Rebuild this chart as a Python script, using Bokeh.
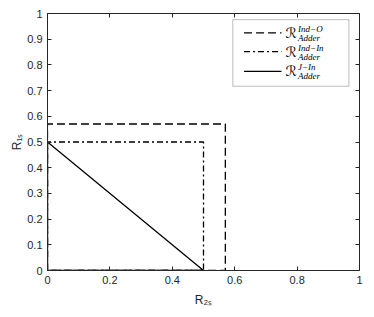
from bokeh.plotting import figure
from bokeh.models import (Range1d, LinearAxis, FixedTicker, Label, BoxAnnotation)
from bokeh.embed import file_html
from bokeh.resources import INLINE

# ---- data ----
ind_o_x = [0, 0, 0.57, 0.57, 0]
ind_o_y = [0, 0.57, 0.57, 0, 0]
ind_in_x = [0, 0, 0.5, 0.5, 0]
ind_in_y = [0, 0.5, 0.5, 0, 0]
j_in_x = [0, 0, 0.5, 0]
j_in_y = [0, 0.5, 0, 0]

x_ticks = [0, 0.2, 0.4, 0.6, 0.8, 1]
x_tick_labels = ["0", "0.2", "0.4", "0.6", "0.8", "1"]
y_ticks = [0, 0.1, 0.2, 0.3, 0.4, 0.5, 0.6, 0.7, 0.8, 0.9, 1]
y_tick_labels = ["0", "0.1", "0.2", "0.3", "0.4", "0.5", "0.6", "0.7", "0.8", "0.9", "1"]

x_label = "R\u2082\u209B"
y_label = "R\u2081\u209B"
legend_sups = ["Ind\u2212O", "Ind\u2212In", "J\u2212In"]
legend_sub = "Adder"
legend_dashes = ["8 4", "6 3 2 3", "solid"]

AX = "#262626"
FONT = "Liberation Sans"

p = figure(width=369, height=309, output_backend="svg", toolbar_location=None,
           x_range=Range1d(0, 1), y_range=Range1d(0, 1),
           min_border_left=47, min_border_right=10, min_border_top=13, min_border_bottom=37,
           x_axis_location=None, y_axis_location=None)
p.grid.visible = False
p.outline_line_color = None
p.background_fill_color = "white"
p.border_fill_color = "white"

def make_axis(ticks, labels, show_labels, label=None, label_standoff=6):
    ax = LinearAxis(ticker=FixedTicker(ticks=ticks))
    ax.major_label_overrides = {t: l for t, l in zip(ticks, labels)}
    ax.axis_line_color = AX
    ax.axis_line_width = 1
    ax.major_tick_line_color = AX
    ax.major_tick_in = 4
    ax.major_tick_out = 0
    ax.minor_tick_line_color = None
    ax.major_label_text_font = FONT
    if show_labels:
        ax.major_label_text_color = AX
        ax.major_label_text_font_size = "11px"
        ax.major_label_standoff = 5
    else:
        ax.major_label_text_color = None
        ax.major_label_text_font_size = "1px"
        ax.major_label_standoff = 0
    if label:
        ax.axis_label = label
        ax.axis_label_text_font = FONT
        ax.axis_label_text_font_style = "normal"
        ax.axis_label_text_font_size = "12px"
        ax.axis_label_text_color = AX
        ax.axis_label_standoff = label_standoff
    return ax

p.add_layout(make_axis(x_ticks, x_tick_labels, True, x_label, 6), "below")
p.add_layout(make_axis(y_ticks, y_tick_labels, True, y_label, 0), "left")
p.add_layout(make_axis(x_ticks, x_tick_labels, False), "above")
p.add_layout(make_axis(y_ticks, y_tick_labels, False), "right")

p.line(ind_o_x, ind_o_y, line_color="black", line_width=1.3, line_dash="8 4")
p.line(ind_in_x, ind_in_y, line_color="black", line_width=1.3, line_dash="6 3 2 3")
p.line(j_in_x, j_in_y, line_color="black", line_width=1.3)

# legend
p.add_layout(BoxAnnotation(left=0.594, right=0.966, bottom=0.717, top=0.976,
                           fill_color="white", fill_alpha=1, line_color=AX, line_width=1,
                           level="annotation"))
rows = [0.925, 0.852, 0.775]
for ry, sup, dash in zip(rows, legend_sups, legend_dashes):
    r = p.line([0.63, 0.75], [ry, ry], line_color="black", line_width=1.3, line_dash=dash)
    r.level = "overlay"
    p.add_layout(Label(x=0.763, y=ry, text="\u211B", text_baseline="middle", text_font="DejaVu Sans",
                       text_font_size="14px", text_color="black", level="overlay"))
    p.add_layout(Label(x=0.763, y=ry, x_offset=12.5, y_offset=4, text=sup, text_baseline="middle",
                       text_font="Liberation Serif", text_font_style="italic", text_font_size="9px",
                       text_color="black", level="overlay"))
    p.add_layout(Label(x=0.763, y=ry, x_offset=12.5, y_offset=-5, text=legend_sub, text_baseline="middle",
                       text_font="Liberation Serif", text_font_style="italic", text_font_size="9px",
                       text_color="black", level="overlay"))

open("out.html", "w").write(file_html(p, INLINE))
